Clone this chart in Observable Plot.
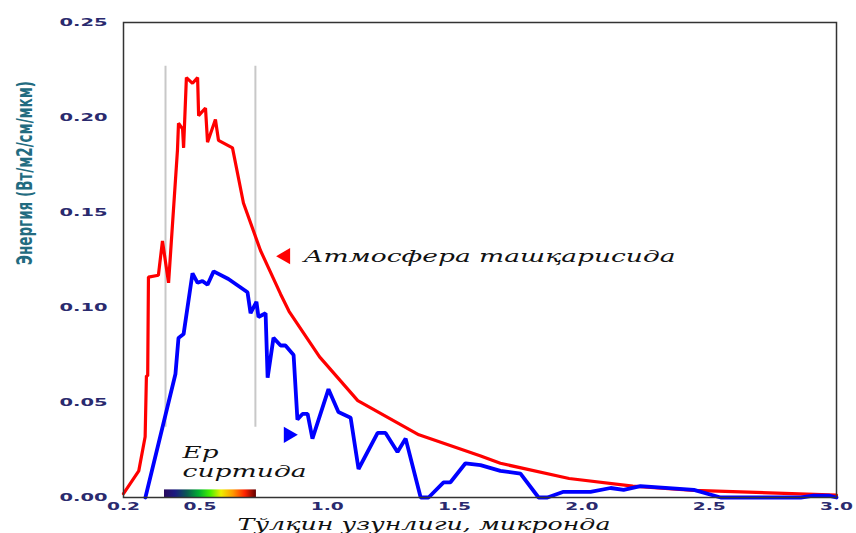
<!DOCTYPE html>
<html>
<head>
<meta charset="utf-8">
<script src="https://cdn.jsdelivr.net/npm/d3@7"></script>
<script src="https://cdn.jsdelivr.net/npm/@observablehq/plot@0.6"></script>
<style>
  html, body { margin: 0; padding: 0; background: #fff; }
  #chart svg { display: block; }
</style>
</head>
<body>
<div id="chart"></div>
<script>
// Wavelength (microns) and energy for the spectrum outside the atmosphere (red)
const outsideX = [0.20, 0.26, 0.285, 0.29, 0.295, 0.298, 0.337, 0.353, 0.365, 0.377, 0.412, 0.416, 0.432, 0.436, 0.447, 0.471, 0.491, 0.495, 0.522, 0.530, 0.561, 0.573, 0.628, 0.671, 0.738, 0.817, 0.85, 0.97, 1.12, 1.36, 1.60, 1.68, 1.95, 2.2, 2.44, 3.0];
const outsideY = [0.002, 0.014, 0.032, 0.064, 0.064, 0.116, 0.117, 0.135, 0.124, 0.113, 0.183, 0.197, 0.194, 0.184, 0.221, 0.218, 0.221, 0.201, 0.205, 0.187, 0.199, 0.188, 0.184, 0.155, 0.130, 0.107, 0.098, 0.074, 0.051, 0.033, 0.022, 0.018, 0.010, 0.006, 0.0038, 0.0012];

// Spectrum at the Earth's surface (blue)
const surfaceX = [0.286, 0.404, 0.416, 0.436, 0.471, 0.491, 0.510, 0.530, 0.554, 0.612, 0.687, 0.699, 0.722, 0.730, 0.758, 0.766, 0.789, 0.817, 0.836, 0.868, 0.883, 0.903, 0.923, 0.942, 1.005, 1.044, 1.092, 1.123, 1.198, 1.229, 1.276, 1.308, 1.367, 1.398, 1.457, 1.484, 1.543, 1.602, 1.68, 1.759, 1.83, 1.865, 1.928, 2.034, 2.113, 2.164, 2.23, 2.44, 2.545, 2.86, 2.91, 2.97, 3.0];
const surfaceY = [0.000, 0.065, 0.084, 0.086, 0.118, 0.113, 0.114, 0.112, 0.119, 0.115, 0.108, 0.097, 0.103, 0.095, 0.097, 0.063, 0.084, 0.080, 0.080, 0.075, 0.041, 0.044, 0.044, 0.031, 0.057, 0.045, 0.042, 0.015, 0.034, 0.034, 0.024, 0.031, 0.000, 0.000, 0.008, 0.008, 0.018, 0.017, 0.014, 0.0126, 0.000, 0.000, 0.003, 0.003, 0.005, 0.004, 0.006, 0.004, 0.000, 0.000, 0.001, 0.001, 0.000];

const xTicks = [0.2, 0.5, 1.0, 1.5, 2.0, 2.5, 3.0];
const yTicks = [0.00, 0.05, 0.10, 0.15, 0.20, 0.25];

// visible band boundaries (microns)
const visibleBounds = [0.365, 0.718];
const spectrumBand = [{x1: 0.361, x2: 0.722}];

const yTitle = "Энергия (Вт/м2/см/мкм)";
const xTitle = "Тўлқин узунлиги, микронда";
const outsideLabel = "Атмосфера ташқарисида";
const surfaceLabel = ["Ер", "сиртида"];

const redData = outsideX.map((x, i) => ({x, y: outsideY[i]}));
const blueData = surfaceX.map((x, i) => ({x, y: surfaceY[i]}));

const markers = [
  {x: 0.836, y: 0.127, color: "#ff0000", rotate: -90},
  {x: 0.848, y: 0.033, color: "#0000ff", rotate: 90}
];
const labels = [
  {x: 0.907, y: 0.127, text: outsideLabel},
  {x: 0.432, y: 0.0237, text: surfaceLabel[0]},
  {x: 0.432, y: 0.0137, text: surfaceLabel[1]}
];

const serif = "'DejaVu Serif', 'Liberation Serif', serif";

const svg = Plot.plot({
  width: 856,
  height: 533,
  marginLeft: 123,
  marginRight: 20,
  marginTop: 22,
  marginBottom: 36,
  style: {background: "white"},
  x: {domain: [0.2, 3.0]},
  y: {domain: [0, 0.25]},
  marks: [
    Plot.ruleX(visibleBounds, {y1: 0.037, y2: 0.227, stroke: "#c8c8c8", strokeWidth: 2}),
    Plot.rect(spectrumBand, {x1: "x1", x2: "x2", y1: 0, y2: 0.004, fill: "url(#spec)"}),
    Plot.line(redData, {x: "x", y: "y", stroke: "#ff0000", strokeWidth: 3.2, strokeLinejoin: "miter"}),
    Plot.line(blueData, {x: "x", y: "y", stroke: "#0000ff", strokeWidth: 3.8, strokeLinejoin: "miter"}),
    Plot.frame({stroke: "#333", strokeWidth: 1.5}),
    Plot.axisY({ticks: yTicks, tickSize: 0, tickPadding: 16, tickFormat: d => d.toFixed(2), label: null,
      fontSize: 11, fontWeight: "bold", fill: "#2a2a6e", fontFamily: "'DejaVu Sans', Verdana, sans-serif"}),
    Plot.axisX({ticks: xTicks, tickSize: 0, tickPadding: 5, tickFormat: d => d.toFixed(1), label: null,
      fontSize: 11, fontWeight: "bold", fill: "#2a2a6e", fontFamily: "'DejaVu Sans', Verdana, sans-serif"}),
    Plot.dot(markers, {x: "x", y: "y", symbol: "triangle", r: 6, fill: d => d.color, rotate: "rotate", stroke: null}),
    Plot.text(labels, {x: "x", y: "y", text: "text", textAnchor: "start", fontSize: 17, fontStyle: "italic", fontFamily: serif, fill: "#111"}),
    Plot.text([yTitle], {frameAnchor: "left", rotate: -90, dx: -98, dy: 5, fontSize: 21, fontWeight: "bold",
      fontFamily: "'Liberation Sans Narrow', 'DejaVu Sans Condensed', 'Liberation Sans', sans-serif", fill: "#226b80"}),
    Plot.text([xTitle], {frameAnchor: "bottom", dx: -56, dy: 32, fontSize: 17, fontStyle: "italic", fontFamily: serif, fill: "#111"})
  ]
});

// spectrum gradient definition
const ns = "http://www.w3.org/2000/svg";
const defs = document.createElementNS(ns, "defs");
const grad = document.createElementNS(ns, "linearGradient");
grad.setAttribute("id", "spec");
const stops = [[0, "#2a0a5e"], [0.12, "#1a1a80"], [0.25, "#0a5a50"], [0.38, "#00b030"], [0.5, "#44ee00"], [0.62, "#eeee00"], [0.75, "#ff9900"], [0.88, "#ff2200"], [1, "#600000"]];
for (const [o, c] of stops) {
  const s = document.createElementNS(ns, "stop");
  s.setAttribute("offset", o);
  s.setAttribute("stop-color", c);
  grad.appendChild(s);
}
defs.appendChild(grad);
svg.insertBefore(defs, svg.firstChild);

// horizontal stretch of texts to the widths seen in the reference
const widths = new Map([
  [outsideLabel, 372], [surfaceLabel[0], 36], [surfaceLabel[1], 124],
  [xTitle, 373], [yTitle, 184]
]);
svg.querySelectorAll("text").forEach(t => {
  const s = t.textContent;
  let len = widths.get(s);
  if (len == null && /^\d\.\d\d$/.test(s)) len = 48;
  if (len == null && /^\d\.\d$/.test(s)) len = 33;
  if (len != null) {
    t.setAttribute("textLength", len);
    t.setAttribute("lengthAdjust", "spacingAndGlyphs");
  }
});

document.getElementById("chart").appendChild(svg);
</script>
</body>
</html>
